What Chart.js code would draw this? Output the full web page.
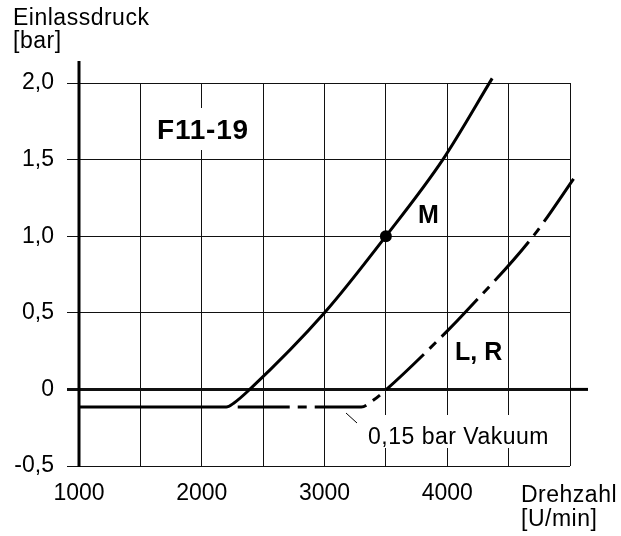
<!DOCTYPE html>
<html>
<head>
<meta charset="utf-8">
<script src="https://cdn.jsdelivr.net/npm/chart.js@4"></script>
<style>
  html, body { margin: 0; padding: 0; background: #fff; }
  canvas { display: block; }
</style>
</head>
<body>
<canvas id="chart" width="621" height="536"></canvas>
<script>
// curve M (solid)
const mX = [1000, 2200, 2260, 2391, 3000, 3500, 3964, 4366];
const mY = [-0.115, -0.115, -0.09, 0, 0.5, 1.0, 1.5, 2.03];
// curve L, R (dash-dot)
const lrX = [2293, 3300, 3390, 3505, 4005, 4143, 4700, 5060];
const lrY = [-0.115, -0.115, -0.075, 0, 0.385, 0.5, 1.0, 1.41];
// marked point on M
const dotX = [3500];
const dotY = [1.0];

const xTickLabels = [1000, 2000, 3000, 4000];
const yTickValues = [-0.5, 0, 0.5, 1.0, 1.5, 2.0];

const FONT = "'Liberation Sans', Arial, Helvetica, sans-serif";

function pts(xs, ys) {
  return xs.map((v, i) => ({ x: v, y: ys[i] }));
}

const overlay = {
  id: 'overlay',
  afterDraw(chart) {
    const ctx = chart.ctx;
    const y = chart.scales.y;
    const area = chart.chartArea;
    ctx.save();

    // y axis (thick), reaching above the plot
    ctx.strokeStyle = '#000';
    ctx.lineWidth = 3;
    ctx.beginPath();
    ctx.moveTo(area.left, 61);
    ctx.lineTo(area.left, y.getPixelForValue(-0.5) + 1);
    ctx.stroke();

    // zero line continues past the right edge
    const y0 = y.getPixelForValue(0);
    ctx.beginPath();
    ctx.moveTo(area.right, y0);
    ctx.lineTo(588, y0);
    ctx.stroke();

    // axis titles
    ctx.fillStyle = '#000';
    ctx.letterSpacing = '0.5px';
    ctx.font = '23px ' + FONT;
    ctx.textAlign = 'left';
    ctx.textBaseline = 'alphabetic';
    ctx.fillText('Einlassdruck', 13, 25);
    ctx.fillText('[bar]', 13, 48);
    ctx.fillText('Drehzahl', 521, 502);
    ctx.fillText('[U/min]', 521, 526);

    // F11-19 with white box
    ctx.letterSpacing = '0.8px';
    ctx.font = 'bold 28px ' + FONT;
    ctx.fillStyle = '#fff';
    ctx.fillRect(152, 108, 100, 42);
    ctx.fillStyle = '#000';
    ctx.fillText('F11-19', 157, 139);

    // curve labels
    ctx.letterSpacing = '0px';
    ctx.font = 'bold 25px ' + FONT;
    ctx.fillText('M', 418, 223);
    ctx.fillText('L, R', 455, 360);

    // vacuum note
    ctx.fillStyle = '#fff';
    ctx.fillRect(362, 415, 192, 33);
    ctx.fillStyle = '#000';
    ctx.letterSpacing = '0.5px';
    ctx.font = '23px ' + FONT;
    ctx.fillText('0,15 bar Vakuum', 368, 444);
    ctx.lineWidth = 1;
    ctx.beginPath();
    ctx.moveTo(346, 413);
    ctx.lineTo(357, 423);
    ctx.stroke();

    ctx.restore();
  }
};

Chart.defaults.color = '#000';
Chart.defaults.font.family = FONT;

new Chart(document.getElementById('chart'), {
  type: 'line',
  data: {
    datasets: [{
      label: 'M',
      data: pts(mX, mY),
      borderColor: '#000',
      borderWidth: 3,
      pointRadius: 0,
      cubicInterpolationMode: 'monotone',
      clip: false
    }, {
      label: 'L, R',
      data: pts(lrX, lrY),
      borderColor: '#000',
      borderWidth: 3,
      borderDash: [52, 8, 9, 8],
      pointRadius: 0,
      cubicInterpolationMode: 'monotone',
      clip: false
    }, {
      label: 'Punkt',
      data: pts(dotX, dotY),
      showLine: false,
      pointRadius: 6,
      pointBackgroundColor: '#000',
      pointBorderWidth: 0
    }]
  },
  options: {
    responsive: false,
    animation: false,
    events: [],
    layout: { padding: { left: 0, top: 83, right: 51, bottom: 0 } },
    plugins: { legend: { display: false }, tooltip: { enabled: false } },
    scales: {
      x: {
        type: 'linear',
        min: 1000,
        max: 5000,
        afterFit: s => { s.height = 70; },
        border: { display: false },
        grid: {
          color: '#111',
          lineWidth: c => (c.tick && c.tick.value === 1000 ? 0 : 1),
          drawTicks: false
        },
        ticks: {
          stepSize: 500,
          autoSkip: false,
          maxRotation: 0,
          padding: 14,
          font: { size: 23 },
          callback: v => (xTickLabels.includes(v) ? String(v) : '')
        }
      },
      y: {
        min: -0.5,
        max: 2.0,
        afterFit: s => { s.width = 79; },
        afterBuildTicks: s => { s.ticks = yTickValues.map(v => ({ value: v })); },
        border: { display: false },
        grid: {
          color: '#111',
          lineWidth: c => (c.tick && c.tick.value === 0 ? 3 : 1),
          tickLength: 12
        },
        ticks: {
          padding: 13,
          font: { size: 23 },
          callback: v => (v === 0 ? '0' : v.toFixed(1).replace('.', ','))
        }
      }
    }
  },
  plugins: [overlay]
});
</script>
</body>
</html>
